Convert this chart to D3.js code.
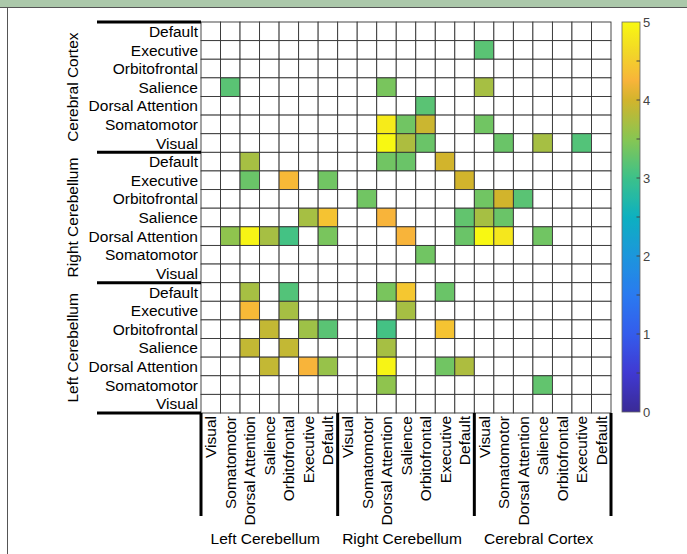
<!DOCTYPE html>
<html><head><meta charset="utf-8">
<script src="https://cdn.jsdelivr.net/npm/d3@7"></script>
<style>html,body{margin:0;padding:0;background:#fff;}svg{display:block;font-family:"Liberation Sans",Arial,sans-serif;}</style>
</head><body>
<svg id="c" width="687" height="554"></svg>
<script>
// ---- data ----
const rowGroups = ["Cerebral Cortex", "Right Cerebellum", "Left Cerebellum"];
const rowNetworks = ["Default", "Executive", "Orbitofrontal", "Salience", "Dorsal Attention", "Somatomotor", "Visual"];
const colGroups = ["Left Cerebellum", "Right Cerebellum", "Cerebral Cortex"];
const colNetworks = ["Visual", "Somatomotor", "Dorsal Attention", "Salience", "Orbitofrontal", "Executive", "Default"];
const colorTicks = [0, 1, 2, 3, 4, 5];
const colorMinorTicks = [0.5, 1.5, 2.5, 3.5, 4.5];
// non-empty cells: [row index, column index, value]
const cells = [
  [1, 14, 3.2],
  [3, 1, 3.2], [3, 9, 3.4], [3, 14, 3.7],
  [4, 11, 3.2],
  [5, 9, 4.85], [5, 10, 3.35], [5, 11, 3.95], [5, 14, 3.35],
  [6, 9, 5.0], [6, 10, 3.75], [6, 11, 3.3], [6, 15, 3.3], [6, 17, 3.7], [6, 19, 3.15],
  [7, 2, 3.7], [7, 9, 3.35], [7, 10, 3.3], [7, 12, 4.0],
  [8, 2, 3.3], [8, 4, 4.3], [8, 6, 3.35], [8, 13, 4.0],
  [9, 8, 3.35], [9, 14, 3.35], [9, 15, 4.0], [9, 16, 3.2],
  [10, 5, 3.7], [10, 6, 4.4], [10, 9, 4.25], [10, 13, 3.25], [10, 14, 3.7], [10, 15, 3.3],
  [11, 1, 3.55], [11, 2, 4.95], [11, 3, 3.7], [11, 4, 3.05], [11, 6, 3.4], [11, 10, 4.25],
  [11, 13, 3.3], [11, 14, 5.0], [11, 15, 4.8], [11, 17, 3.35],
  [12, 11, 3.35],
  [14, 2, 3.7], [14, 4, 3.15], [14, 9, 3.4], [14, 10, 4.45], [14, 12, 3.3],
  [15, 2, 4.3], [15, 4, 3.7], [15, 10, 3.7],
  [16, 3, 3.9], [16, 5, 3.65], [16, 6, 3.2], [16, 9, 3.05], [16, 12, 4.4],
  [17, 2, 3.9], [17, 4, 3.9], [17, 9, 3.7],
  [18, 3, 3.9], [18, 5, 4.25], [18, 6, 3.6], [18, 9, 4.95], [18, 12, 3.35], [18, 13, 3.75],
  [19, 9, 3.55], [19, 17, 3.25]
];
// parula-like colormap stops
const cmapDomain = [0, 0.5, 1, 1.5, 2, 2.5, 3, 3.5, 4, 4.25, 4.6, 5];
const cmapRange = ["#3a2a96", "#4039d2", "#345cec", "#2a7af0", "#1c96dc", "#0db0c0", "#3cc18a", "#88c652", "#d2b42c", "#f8b43a", "#f2d628", "#f8f812"];

// ---- build ----
const rowKeys = [], colKeys = [];
rowGroups.forEach(g => rowNetworks.forEach(n => rowKeys.push(g + "|" + n)));
colGroups.forEach(g => colNetworks.forEach(n => colKeys.push(g + "|" + n)));

const svg = d3.select("#c");
const x = d3.scaleBand().domain(colKeys).range([201, 611]);
const y = d3.scaleBand().domain(rowKeys).range([22, 413]);
const color = d3.scaleLinear().domain(cmapDomain).range(cmapRange).interpolate(d3.interpolateRgb).clamp(true);
const FS = 15.5;

// frame
svg.append("rect").attr("x", 0).attr("y", 0).attr("width", 687).attr("height", 7).attr("fill", "#abc8aa");
svg.append("line").attr("x1", 0).attr("x2", 687).attr("y1", 7.5).attr("y2", 7.5).attr("stroke", "#555").attr("stroke-width", 1);
svg.append("line").attr("x1", 7.5).attr("x2", 7.5).attr("y1", 7.5).attr("y2", 554).attr("stroke", "#555").attr("stroke-width", 1);

const valMap = new Map(cells.map(d => [d[0] + "," + d[1], d[2]]));
const allCells = [];
rowKeys.forEach((r, i) => colKeys.forEach((c, j) => allCells.push({r, c, v: valMap.get(i + "," + j)})));

svg.append("g").selectAll("rect").data(allCells).join("rect")
  .attr("x", d => x(d.c)).attr("y", d => y(d.r))
  .attr("width", x.bandwidth()).attr("height", y.bandwidth())
  .attr("fill", d => d.v == null ? "#fff" : color(d.v))
  .attr("stroke", "#333").attr("stroke-width", 0.9);

// row labels
svg.append("g").selectAll("text").data(rowKeys).join("text")
  .attr("x", 198).attr("y", d => y(d) + y.bandwidth() / 2)
  .attr("dy", "0.36em").attr("text-anchor", "end")
  .attr("font-size", FS).attr("fill", "#000")
  .text(d => d.split("|")[1]);

// column labels
svg.append("g").selectAll("text").data(colKeys).join("text")
  .attr("transform", d => `translate(${x(d) + x.bandwidth() / 2},416) rotate(-90)`)
  .attr("dy", "0.36em").attr("text-anchor", "end")
  .attr("font-size", FS).attr("fill", "#000")
  .text(d => d.split("|")[1]);

// group separators
const rowBounds = rowGroups.map(g => y(g + "|" + rowNetworks[0])).concat([y.range()[1]]);
svg.append("g").selectAll("line").data(rowBounds).join("line")
  .attr("x1", 97).attr("x2", 201).attr("y1", d => d).attr("y2", d => d)
  .attr("stroke", "#000").attr("stroke-width", 3);
const colBounds = colGroups.map(g => x(g + "|" + colNetworks[0])).concat([x.range()[1]]);
svg.append("g").selectAll("line").data(colBounds).join("line")
  .attr("x1", d => d).attr("x2", d => d).attr("y1", 413).attr("y2", 516)
  .attr("stroke", "#000").attr("stroke-width", 3);

// group labels
svg.append("g").selectAll("text").data(rowGroups).join("text")
  .attr("transform", g => `translate(72,${y(g + "|" + rowNetworks[0]) + 3.5 * y.bandwidth()}) rotate(-90)`)
  .attr("text-anchor", "middle").attr("dy", "0.36em")
  .attr("font-size", FS).attr("fill", "#000").text(g => g);
svg.append("g").selectAll("text").data(colGroups).join("text")
  .attr("x", g => x(g + "|" + colNetworks[0]) + 3.5 * x.bandwidth() - 4).attr("y", 538)
  .attr("text-anchor", "middle").attr("dy", "0.36em")
  .attr("font-size", FS).attr("fill", "#000").text(g => g);

// colorbar
const cy = d3.scaleLinear().domain([0, 5]).range([412, 22]);
const defs = svg.append("defs");
const grad = defs.append("linearGradient").attr("id", "cb").attr("x1", 0).attr("y1", 1).attr("x2", 0).attr("y2", 0);
d3.range(0, 5.001, 0.05).forEach(v => grad.append("stop").attr("offset", v / 5).attr("stop-color", color(v)));
svg.append("rect").attr("x", 622).attr("y", 22).attr("width", 18).attr("height", 390)
  .attr("fill", "url(#cb)").attr("stroke", "#666").attr("stroke-width", 0.8);
svg.append("g").selectAll("line").data(colorTicks.concat(colorMinorTicks).filter(v => v > 0 && v < 5)).join("line")
  .attr("x1", 636.5).attr("x2", 640).attr("y1", d => cy(d)).attr("y2", d => cy(d))
  .attr("stroke", "#444").attr("stroke-width", 1);
svg.append("g").selectAll("text").data(colorTicks).join("text")
  .attr("x", 643).attr("y", d => cy(d)).attr("dy", "0.36em")
  .attr("font-size", 13).attr("fill", "#444").text(d => d);
</script>
</body></html>
